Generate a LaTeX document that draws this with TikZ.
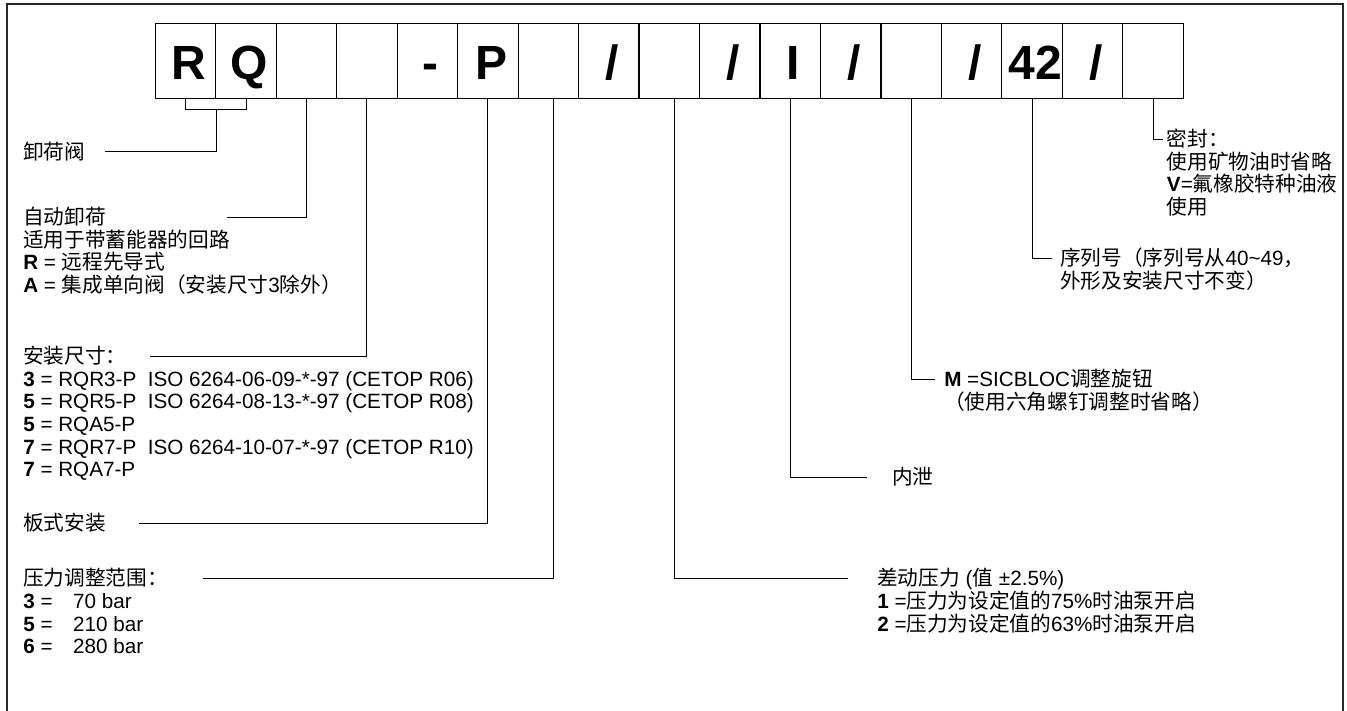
\documentclass[tikz,border=0pt]{standalone}
\usepackage{fontspec}
\setmainfont{Liberation Sans}
\newfontfamily\cjk{Noto Sans CJK SC}
\newcommand{\zh}[1]{{\cjk #1}}
\usetikzlibrary{calc, positioning}

\begin{document}
\begin{tikzpicture}[x=0.75pt, y=-0.75pt,
  cell/.style={draw, line width=0.9pt, minimum width=45.35pt,
    minimum height=56.25pt, inner sep=0pt, text height=27.75pt,
    text depth=0pt, font=\fontsize{36}{36}\selectfont\bfseries},
  lbl/.style={anchor=west, inner sep=0pt, text height=12pt, text depth=1pt,
    font=\fontsize{15.5}{17}\selectfont},
  ltext/.style={anchor=base west, inner sep=0pt, align=left,
    font=\fontsize{15.5}{17}\selectfont},
  lead/.style={line width=0.75pt},
  frame/.style={line width=1.5pt, black!85},
]
\useasboundingbox (0,0) rectangle (1347,711);

% Frame (open at the bottom)
\draw[frame] (7,711) -- (7,3.7) -- (1343,3.7) -- (1343,711);

% Code boxes
\foreach \t [count=\i] in {R,Q,{},{},-,P,{},/,{},/,I,/,{},/,42,/,{}}
  \node[cell] (c\i) at ({155.3+60.47*(\i-0.5)},60.8) {\hspace*{5pt}\t};

% Left labels (body nodes sit on the baseline of their last line)
\node[lbl] (rqT) at (23,151.7) {\zh{卸荷阀}};

\node[lbl] (autoT) at (23,217) {\zh{自动卸荷}};
\node[ltext] (autoB) at ([yshift=-51pt]autoT.base west) {%
  \zh{适用于带蓄能器的回路}\\
  \textbf{R} = \zh{远程先导式}\\
  \textbf{A} = \zh{集成单向阀（安装尺寸}3\zh{除外）}};

\node[lbl] (mountT) at (23,356) {\zh{安装尺寸：}};
\node[ltext] (mountB) at ([yshift=-85pt]mountT.base west) {%
  \textbf{3} = RQR3-P\ \ ISO 6264-06-09-*-97 (CETOP R06)\\
  \textbf{5} = RQR5-P\ \ ISO 6264-08-13-*-97 (CETOP R08)\\
  \textbf{5} = RQA5-P\\
  \textbf{7} = RQR7-P\ \ ISO 6264-10-07-*-97 (CETOP R10)\\
  \textbf{7} = RQA7-P};

\node[lbl] (plateT) at (23,523) {\zh{板式安装}};

\node[lbl] (rangeT) at (23,578.5) {\zh{压力调整范围：}};
\node[ltext] (rangeB) at ([yshift=-51pt]rangeT.base west) {%
  \textbf{3} =\quad 70 bar\\
  \textbf{5} =\quad 210 bar\\
  \textbf{6} =\quad 280 bar};

% Right labels
\node[lbl] (diffT) at (877,578.5) {\zh{差动压力} (\zh{值} ±2.5\%)};
\node[ltext] (diffB) at ([yshift=-34pt]diffT.base west) {%
  \textbf{1} =\zh{压力为设定值的}75\%\zh{时油泵开启}\\
  \textbf{2} =\zh{压力为设定值的}63\%\zh{时油泵开启}};

\node[lbl] (leakT) at (892,477) {\zh{内泄}};

\node[lbl] (knobT) at (944,379.5) {\textbf{M} =SICBLOC\zh{调整旋钮}};
\node[ltext] (knobB) at ([yshift=-17pt]knobT.base west) {%
  \zh{（使用六角螺钉调整时省略）}};

\node[lbl] (serialT) at (1060,258) {\zh{序列号（序列号从}40\textasciitilde49\zh{，}};
\node[ltext] (serialB) at ([yshift=-17pt]serialT.base west) {%
  \zh{外形及安装尺寸不变）}};

\node[lbl] (sealT) at (1166.7,139) {\zh{密封：}};
\node[ltext] (sealB) at ([yshift=-51pt]sealT.base west) {%
  \zh{使用矿物油时省略}\\
  \textbf{V}=\zh{氟橡胶特种油液}\\
  \zh{使用}};

% Leader lines
\draw[lead] (c1.south) -- ++(0,11) -| (c2.south);
\coordinate (rqmid) at ($(c1.south east)+(0,11)$);
\draw[lead] (rqmid) |- ($(rqT.west)+(82,0)$);
\draw[lead] (c3.south) |- ($(autoT.west)+(204,0)$);
\draw[lead] (c4.south) |- ($(mountT.west)+(127,0)$);
\draw[lead] (c6.south) |- ($(plateT.west)+(116,0)$);
\draw[lead] ([xshift=3.5pt]c7.south) |- ($(rangeT.west)+(180,0)$);
\draw[lead] ([xshift=4pt]c9.south) |- ($(diffT.west)+(-29,0)$);
\draw[lead] (c11.south) |- ($(leakT.west)+(-25,0)$);
\draw[lead] (c13.south) |- ($(knobT.west)+(-9,0)$);
\draw[lead] (c15.south) |- ($(serialT.west)+(-8,0)$);
\draw[lead] (c17.south) |- ($(sealT.west)+(-4,0)$);
\end{tikzpicture}
\end{document}
